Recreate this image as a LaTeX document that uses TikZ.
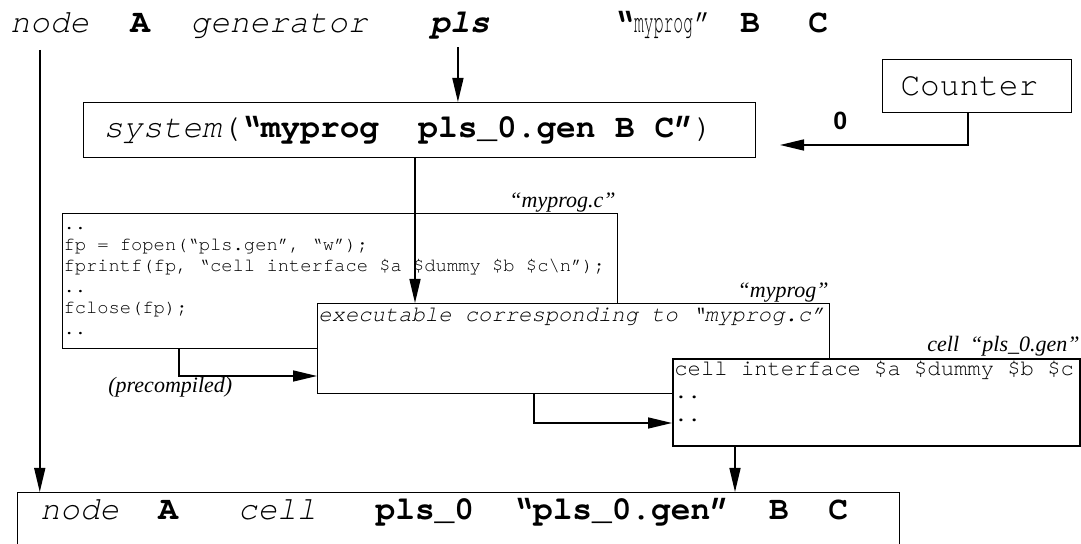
\documentclass[tikz,border=0pt]{standalone}
\usepackage{graphicx}
\usepackage{fontspec}
\setmainfont{Liberation Serif}
\setsansfont{Liberation Sans}
\setmonofont{TeX Gyre Cursor}[WordSpace={1,0,0}]
\usetikzlibrary{arrows.meta,calc}

\begin{document}
\begin{tikzpicture}[x=0.5pt,y=-0.5pt,>={Triangle[length=12pt,width=5.5pt]},line join=miter,
	mono/.style={font=\fontsize{16.4}{19}\selectfont\ttfamily},
	word/.style={mono,inner sep=0pt,anchor=base west},
	box/.style={draw,line width=0.5pt,fill=white,rectangle,inner sep=0pt,anchor=north west},
	fixsp/.style={align=left,execute at begin node={\spaceskip=0.6em\relax}},
	small/.style={font=\fontsize{11.1}{11.3}\selectfont\ttfamily,inner sep=0pt},
	lbl/.style={font=\fontsize{11}{13}\selectfont\itshape,inner sep=0pt,anchor=base east},
	con/.style={line width=0.8pt}]
				\useasboundingbox (0,0) rectangle (1081,544);
				\clip (0,0) rectangle (1081,544);
				% top line
				\node[word] (tnode) at (10,33) {\textit{node}};
				\node[word] (tA) at (130,33) {\textbf{A}};
				\node[word] (tgen) at (190,33) {\textit{generator}};
				\node[word] (tpls) at (430,33) {\textbf{\textit{pls}}};
				\node[word] (tprog) at (614,33) {\textbf{“}\scalebox{0.5}[1]{myprog}”};
				\node[word] (tB) at (740,33) {\textbf{B}};
				\node[word] (tC) at (808,33) {\textbf{C}};
				% system call and counter
				\node[box,mono,fixsp,minimum width=336pt,minimum height=27.5pt,text width=316pt,inner xsep=10pt] (sys) at (83,102) {\textit{system}(\textbf{“myprog~~pls\_0.gen B C”})};
				\node[box,mono,fixsp,minimum width=94.5pt,minimum height=26.5pt,text width=76.5pt,inner xsep=9pt] (ctr) at (882,59) {Counter};
				\node[font=\fontsize{12.5}{14}\selectfont\sffamily\bfseries,inner sep=0pt,anchor=base west] (zero) at (833,130) {0};
				% source file
				\node[box,fixsp,minimum width=277.5pt,minimum height=67.5pt,text width=276.5pt,inner xsep=0.5pt,font=\fontsize{9.4}{10.5}\selectfont\ttfamily] (code) at (62,213) {..\\fp = fopen(“pls.gen”, “w”);\\fprintf(fp, “cell interface \$a \$dummy \$b \$c\textbackslash n”);\\..\\fclose(fp);\\..};
				\node[lbl] (codename) at ($(code.north east)+(-2,-5)$) {“myprog.c”};
				\coordinate (nodeout) at ($(tnode.south)+(-10,16)$);
				\coordinate (plsout) at ($(tpls.south)+(-2,7)$);
				\coordinate (sysout) at ($(sys.south west)+(332,0)$);
				\coordinate (ctrout) at ($(ctr.south west)+(86,0)$);
				\coordinate (sysfeed) at (780,145);
				\draw[con,->] (plsout) -- (plsout |- sys.north);
				\draw[con,->] (ctrout) |- (sysfeed);
				% executable
				\node[box,minimum width=256pt,minimum height=45pt] (exec) at (317,303) {};
				\draw[con,->] (sysout) -- (sysout |- exec.north);
				\node[small,anchor=base west] (exectxt) at ($(exec.north west)+(1,19)$) {\textit{executable corresponding to “myprog.c”}};
				\node[lbl] (execname) at ($(exec.north east)+(-1,-5)$) {“myprog”};
				\coordinate (pcout) at ($(code.south west)+(117,0)$);
				\draw[con,->] (pcout) |- ($(exec.north west)+(0,73)$);
				\node[lbl,anchor=base west] (precomp) at (108,393) {(precompiled)};
				% generated cell file
				\node[box,line width=1pt,minimum width=203.5pt,minimum height=43.5pt] (cell) at (672,358) {};
				\node[small,anchor=north west,align=left] (celltxt) at ($(cell.north west)+(2,3)$) {cell interface \$a \$dummy \$b \$c\\..\\..};
				\node[lbl] (cellname) at ($(cell.north east)+(-1,-6)$) {cell\ \ “pls\_0.gen”};
				\coordinate (execout) at ($(exec.south west)+(217,0)$);
				\draw[con,->] (execout) |- ($(cell.north west)+(0,65)$);
				% result
				\node[box,minimum width=441pt,minimum height=40pt] (bot) at (17,492) {};
				\node[word] (bottxt) at (40,520) {\textit{node}~~\textbf{A}~~~\textit{cell}~~~\textbf{pls\_0}~~\textbf{“pls\_0.gen”}~~\textbf{B}~~\textbf{C}};
				\coordinate (cellout) at ($(cell.south west)+(63,0)$);
				\draw[con,->] (nodeout) -- (nodeout |- bot.north);
				\draw[con,->] (cellout) -- (cellout |- bot.north);
			\end{tikzpicture}
\end{document}
